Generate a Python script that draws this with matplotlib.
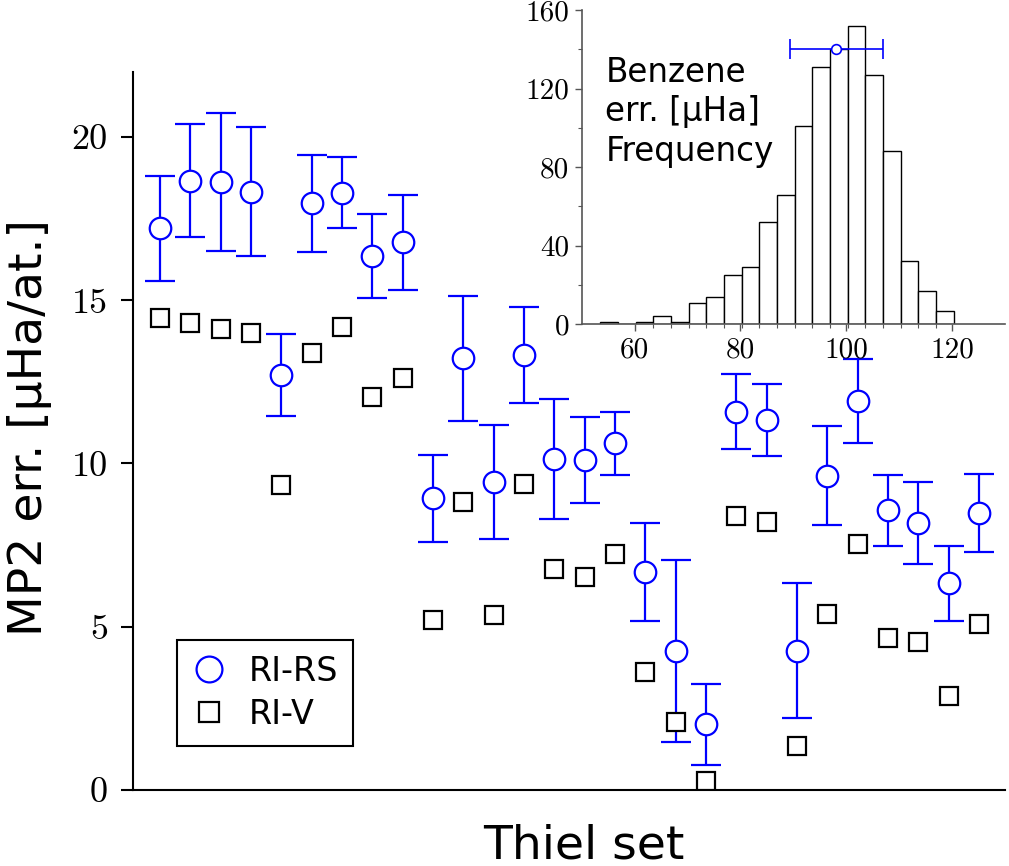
import numpy as np
import matplotlib.pyplot as plt
from matplotlib.lines import Line2D

# Thiel set molecules (index only, no tick labels on the x axis)
molecules = list(range(1, 29))

# RI-RS errors with error bars [uHa/atom]
ri_rs = [17.20, 18.66, 18.62, 18.33, 12.71, 17.97, 18.29, 16.36, 16.77, 8.93,
         13.22, 9.44, 13.32, 10.14, 10.11, 10.62, 6.69, 4.26, 2.01, 11.59,
         11.33, 4.26, 9.63, 11.92, 8.56, 8.17, 6.33, 8.49]
ri_rs_err = [1.62, 1.73, 2.10, 1.98, 1.27, 1.48, 1.09, 1.29, 1.46, 1.34,
             1.91, 1.74, 1.46, 1.83, 1.31, 0.96, 1.50, 2.79, 1.24, 1.16,
             1.09, 2.07, 1.52, 1.28, 1.10, 1.26, 1.14, 1.20]

# RI-V errors [uHa/atom]
ri_v = [14.45, 14.31, 14.11, 13.99, 9.34, 13.37, 14.19, 12.05, 12.61, 5.21,
        8.83, 5.36, 9.37, 6.76, 6.51, 7.23, 3.60, 2.09, 0.28, 8.39,
        8.20, 1.36, 5.38, 7.52, 4.65, 4.53, 2.88, 5.08]

# Benzene histogram (inset)
hist_lo, hist_hi = 53.5, 120.3
hist_counts = [1, 0, 1, 4, 1, 11, 14, 25, 29, 52, 66, 101, 131, 140, 152,
               127, 88, 32, 17, 7]
benz_mean, benz_err, benz_y = 98.1, 8.8, 140

blue = '#0000ff'
fig = plt.figure(figsize=(10.09, 8.66), dpi=100)
ax = fig.add_axes([0.1318, 0.0878, 0.8642, 0.8294])

ax.errorbar(molecules, ri_rs, yerr=ri_rs_err, fmt='none', ecolor=blue,
            elinewidth=1.6, capsize=11, capthick=1.6, zorder=2)
ax.plot(molecules, ri_rs, 'o', ms=15.5, mfc='white', mec=blue, mew=1.6, zorder=3)
ax.plot(molecules, ri_v, 's', ms=12.5, mfc='white', mec='black', mew=1.6, zorder=3)

ax.set_xlim(0.11, 28.86)
ax.set_ylim(0, 22)
ax.set_yticks([0, 5, 10, 15, 20])
ax.set_xticks([])
for s in ['top', 'right']:
    ax.spines[s].set_visible(False)
for s in ['left', 'bottom']:
    ax.spines[s].set_linewidth(1.5)
ax.tick_params(axis='y', direction='out', length=9, width=1.5, pad=9,
               labelsize=26, labelfontfamily='cmr10')
ax.set_ylabel('MP2 err. [μHa/at.]', fontsize=34)
ax.yaxis.set_label_coords(-0.093, 0.505)
ax.set_xlabel('Thiel set', fontsize=34)
ax.xaxis.set_label_coords(0.517, -0.046)

handles = [Line2D([], [], ls='none', marker='o', ms=15.5, mfc='white', mec=blue, mew=1.6),
           Line2D([], [], ls='none', marker='s', ms=12.5, mfc='white', mec='black', mew=1.6)]
leg = ax.legend(handles, ['RI-RS', 'RI-V'], loc='lower left',
                bbox_to_anchor=(0.0505, 0.0613), borderaxespad=0, fontsize=24,
                markerscale=1.2, handlelength=1.0, handletextpad=0.7,
                labelspacing=0.3, borderpad=0.45, fancybox=False, framealpha=1)
leg.get_frame().set_edgecolor('black')
leg.get_frame().set_linewidth(1.5)

# inset histogram
ins = fig.add_axes([0.5765, 0.6255, 0.4195, 0.3629])
edges = np.linspace(hist_lo, hist_hi, len(hist_counts) + 1)
ins.bar(edges[:-1], hist_counts, width=np.diff(edges), align='edge',
        color='white', edgecolor='black', linewidth=1.0)
ins.errorbar([benz_mean], [benz_y], xerr=[benz_err], fmt='o', ms=7, mfc='white',
             mec=blue, mew=1.2, ecolor=blue, elinewidth=1.2, capsize=7, capthick=1.2,
             zorder=4)
ins.set_xlim(50, 130)
ins.set_ylim(0, 160)
ins.set_xticks([60, 80, 100, 120])
ins.set_xticks(edges[3:-1], minor=True)
ins.set_yticks([0, 40, 80, 120, 160])
ins.set_yticks([20, 60, 100, 140], minor=True)
for s in ['top', 'right']:
    ins.spines[s].set_visible(False)
for s in ['left', 'bottom']:
    ins.spines[s].set_color('#555555')
    ins.spines[s].set_linewidth(1.2)
ins.patch.set_alpha(0)
ins.tick_params(which='major', length=5, width=1, color='#555555', pad=4,
                labelsize=21, labelfontfamily='cmr10')
ins.tick_params(which='minor', length=3, width=0.8, color='#555555')
ins.text(0.056, 0.855, 'Benzene\nerr. [μHa]\nFrequency', transform=ins.transAxes,
         fontsize=23.5, va='top', ha='left', linespacing=1.25)

fig.savefig('out.png', dpi=100)
